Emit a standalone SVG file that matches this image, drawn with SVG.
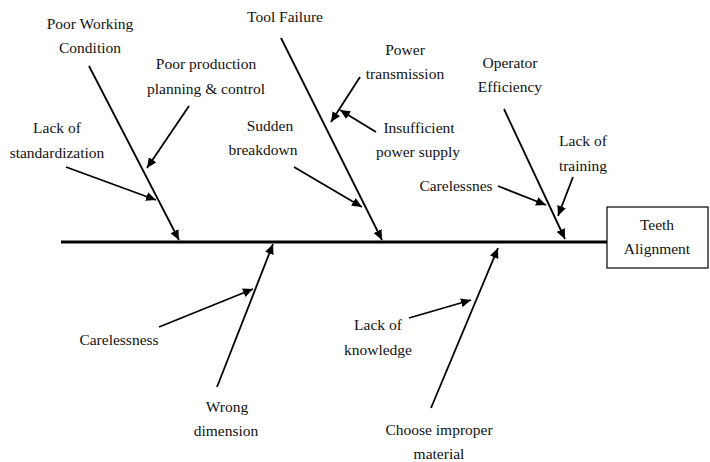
<svg xmlns="http://www.w3.org/2000/svg" width="710" height="462" viewBox="0 0 710 462">
<style>
text{font-family:"Liberation Serif","Times New Roman",serif;font-size:15.5px;fill:#111;text-anchor:middle}
.bone{stroke:#000;stroke-width:1.8;fill:none;marker-end:url(#ah)}
.spine{stroke:#000;stroke-width:3;fill:none}
.box{fill:#fff;stroke:#000;stroke-width:1.2}
</style>
<defs>
<marker id="ah" markerUnits="userSpaceOnUse" markerWidth="11" markerHeight="9" refX="10" refY="4.5" orient="auto">
<path d="M0,0 L10,4.5 L0,9 z" fill="#000"/>
</marker>
</defs>
<rect width="710" height="462" fill="#fff"/>
<g id="connectors">
<line class="spine" x1="61" y1="242" x2="607" y2="242"/>
<line class="bone" x1="89" y1="66" x2="179" y2="240"/>
<line class="bone" x1="189" y1="106" x2="147" y2="168"/>
<line class="bone" x1="66" y1="167" x2="156" y2="200"/>
<line class="bone" x1="281" y1="38" x2="382" y2="240"/>
<line class="bone" x1="360" y1="77" x2="331" y2="122"/>
<line class="bone" x1="376" y1="132" x2="340" y2="110"/>
<line class="bone" x1="294" y1="167" x2="362" y2="207"/>
<line class="bone" x1="504" y1="109" x2="565" y2="239"/>
<line class="bone" x1="573" y1="177" x2="558" y2="216"/>
<line class="bone" x1="498" y1="186" x2="546" y2="205"/>
<line class="bone" x1="217" y1="387" x2="273" y2="244"/>
<line class="bone" x1="159" y1="327" x2="253" y2="289"/>
<line class="bone" x1="431" y1="408" x2="498" y2="248"/>
<line class="bone" x1="409" y1="318" x2="471" y2="300"/>
</g>
<g id="effect">
<rect class="box" x="607" y="207" width="101" height="61"/>
<text x="657" y="230">Teeth</text>
<text x="657" y="254">Alignment</text>
</g>
<g id="poor-working-condition"><text x="90" y="29">Poor Working</text><text x="90" y="53">Condition</text></g>
<g id="poor-production"><text x="206" y="69">Poor production</text><text x="206" y="94">planning &amp; control</text></g>
<g id="lack-of-standardization"><text x="57" y="133">Lack of</text><text x="57" y="158">standardization</text></g>
<g id="tool-failure"><text x="285" y="22">Tool Failure</text></g>
<g id="power-transmission"><text x="405" y="55">Power</text><text x="405" y="79">transmission</text></g>
<g id="insufficient-power"><text x="419" y="133">Insufficient</text><text x="418" y="157">power supply</text></g>
<g id="sudden-breakdown"><text x="270" y="131">Sudden</text><text x="263" y="155">breakdown</text></g>
<g id="operator-efficiency"><text x="510" y="68">Operator</text><text x="510" y="92">Efficiency</text></g>
<g id="lack-of-training"><text x="583" y="146">Lack of</text><text x="583" y="171">training</text></g>
<g id="carelessnes"><text x="456" y="191">Carelessnes</text></g>
<g id="wrong-dimension"><text x="227" y="412">Wrong</text><text x="226" y="436">dimension</text></g>
<g id="carelessness"><text x="119" y="345">Carelessness</text></g>
<g id="choose-improper-material"><text x="439" y="435">Choose improper</text><text x="439" y="459">material</text></g>
<g id="lack-of-knowledge"><text x="378" y="330">Lack of</text><text x="378" y="355">knowledge</text></g>
</svg>
